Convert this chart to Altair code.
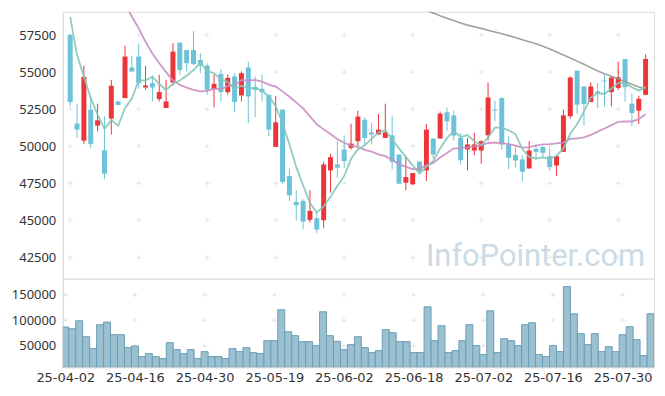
import altair as alt
import pandas as pd
import itertools

# ---- data ----
opens = [57500, 51530, 50380, 52470, 51390, 49730, 51860, 53020, 53250, 55310,
         56050, 53960, 54260, 53180, 52580, 54300, 56990, 56490, 56490, 55820,
         55440, 53850, 54880, 53650, 54700, 53430, 55310, 54010, 53870, 53470,
         49960, 52470, 47990, 46240, 46310, 45030, 45150, 45010, 48370, 48770,
         49780, 49890, 50340, 51790, 50940, 50790, 50560, 50740, 49440, 47540,
         47430, 48970, 48370, 50520, 50520, 52290, 52080, 50560, 49780, 49710,
         49710, 50740, 52470, 53250, 50120, 49400, 49110, 48500, 49820, 49960,
         49330, 48700, 49620, 52020, 55100, 54030, 52980, 53700, 54430, 53650,
         53940, 55890, 52870, 52400, 53470]
highs = [57550, 52870, 55440, 53400, 52870, 52020, 54480, 53070, 56780, 56110,
         56940, 55420, 54770, 54820, 54480, 56960, 56990, 56490, 57770, 56270,
         55600, 54820, 55200, 54840, 54930, 55040, 55710, 54700, 54820, 53470,
         53400, 52470, 48500, 47030, 46420, 47030, 45640, 48950, 49490, 50340,
         50740, 51520, 52400, 51950, 51570, 52170, 52870, 52020, 49440, 49380,
         48190, 48970, 51500, 50520, 52350, 52620, 52400, 50900, 50560, 50900,
         50380, 54300, 53070, 53290, 50670, 49940, 49400, 50340, 50120, 49960,
         49890, 49400, 52470, 54700, 55100, 54030, 54300, 54260, 54860, 54700,
         55710, 55890, 53580, 53400, 56200]
lows = [52690, 50560, 50160, 49890, 51010, 47770, 50790, 52780, 53250, 55040,
        53870, 53810, 53020, 53020, 52580, 54080, 54820, 55040, 55440, 54930,
        53470, 52620, 53020, 53470, 52290, 53020, 51570, 51970, 53020, 50670,
        49960, 47470, 46310, 44970, 44410, 44860, 44140, 44480, 46870, 47880,
        48550, 49780, 50000, 50070, 50120, 50790, 50560, 48440, 47470, 47030,
        47380, 48100, 47650, 49110, 50520, 51010, 50380, 48770, 48370, 49400,
        48820, 50380, 51680, 49780, 48440, 48550, 47650, 48500, 49110, 49220,
        48370, 47990, 49620, 51860, 52170, 51410, 52980, 52580, 52690, 52690,
        53790, 53020, 51350, 51500, 53430]
closes = [52980, 51120, 54680, 50160, 51750, 48150, 54080, 52780, 56050, 55040,
          54260, 54100, 53960, 53650, 53020, 56380, 55150, 55600, 55550, 55420,
          53810, 54210, 53650, 54610, 52980, 54930, 53360, 53790, 53650, 51120,
          51610, 47590, 46690, 46020, 44920, 45640, 44390, 48770, 49260, 48550,
          49000, 50180, 52000, 50560, 50790, 51120, 50940, 48950, 47470, 47920,
          48190, 48320, 51120, 49440, 52200, 51680, 50720, 49060, 50120, 50120,
          50340, 53290, 52400, 50120, 49220, 49040, 48280, 49710, 49620, 49560,
          48590, 49330, 52080, 54640, 52800, 52850, 54030, 53580, 54370, 54640,
          54660, 53990, 52240, 53200, 55890]
volumes = [86600, 83300, 99000, 67600, 44100, 91200, 96400, 71600, 71600, 46100,
           49300, 28400, 34300, 28400, 24500, 55900, 42200, 34300, 42200, 24500,
           38200, 28400, 28400, 24500, 44100, 38200, 46100, 36300, 34300, 59800,
           59800, 120600, 77500, 69600, 57800, 57800, 50000, 116700, 69600, 58500,
           42200, 52000, 67600, 46100, 36300, 40200, 81400, 75500, 57800, 57800,
           36300, 36300, 126500, 59800, 89200, 36300, 40200, 59800, 91200, 50000,
           32400, 118600, 36300, 63700, 59800, 50000, 91200, 95100, 32400, 28400,
           50000, 38200, 166300, 112700, 73500, 52000, 73500, 38200, 48000, 38200,
           71600, 87300, 61800, 30400, 112700]
ma5 = [58730, 56150, 54700, 53250, 52138, 51172, 51764, 51384, 52562, 53220,
       54442, 54446, 54682, 54202, 53798, 54222, 54432, 54760, 55140, 55620,
       55106, 54918, 54528, 54340, 53852, 54076, 53906, 53934, 53742, 53370,
       52706, 51552, 50132, 48606, 47366, 46172, 45532, 45948, 46596, 47322,
       47994, 49152, 49798, 50058, 50506, 50930, 51082, 50472, 49854, 49280,
       48694, 48170, 48604, 48998, 49854, 50552, 51032, 50620, 50756, 50340,
       50072, 50586, 51254, 51254, 51074, 50814, 49812, 49274, 49174, 49242,
       49152, 49362, 49836, 50840, 51488, 52340, 53280, 53580, 53526, 53894,
       54256, 54248, 53980, 53750, 54000]
ma20 = [None] * 8 + [
    59600, 58750, 57950, 57050, 56250, 55600, 55000, 54450, 54150, 53950,
    53800, 53694, 53736, 53890, 53839, 54061, 54123, 54462, 54426, 54476,
    54356, 54160, 54028, 53702, 53339, 52957, 52552, 52015, 51477, 51136,
    50821, 50478, 50237, 50036, 49953, 49751, 49641, 49451, 49330, 49088,
    48779, 48619, 48448, 48484, 48706, 48877, 49241, 49543, 49859, 49874,
    49917, 49995, 50062, 50218, 50238, 50216, 50137, 50033, 49900, 49938,
    50046, 50128, 50148, 50198, 50246, 50506, 50536, 50595, 50760, 50986,
    51199, 51425, 51641, 51676, 51668, 51822, 52155]
ma120 = [None] * 52 + [
    59150, 58980, 58800, 58640, 58480, 58320, 58170, 58060, 57950, 57830,
    57710, 57590, 57460, 57330, 57190, 57050, 56920, 56750, 56560, 56350,
    56150, 55950, 55740, 55530, 55300, 55080, 54890, 54720, 54560, 54350,
    54180, 54000, 53870]

tick_idx = [0, 10, 20, 30, 40, 50, 60, 70, 80]
tick_labels = ["25-04-02", "25-04-16", "25-04-30", "25-05-19", "25-06-02",
               "25-06-18", "25-07-02", "25-07-16", "25-07-30"]
price_ticks = [42500, 45000, 47500, 50000, 52500, 55000, 57500]
vol_ticks = [50000, 100000, 150000]
watermark = ["InfoPointer.com"]

# ---- styling ----
RED = "#ec3439"
BLUE = "#6cc2d8"
GRIDC = "#dedede"
CROSSC = "#e4e4e4"
LABELC = "#333333"
CROSS = "M-1,0H1M0,-1V1"
W = 594
XDOM = [-0.36, 84.5]
PDOM = [41070, 59064]
VDOM = [7500, 182000]

n = len(closes)
df = pd.DataFrame({
    "i": list(range(n)), "open": opens, "high": highs, "low": lows,
    "close": closes, "volume": volumes, "ma5": ma5, "ma20": ma20, "ma120": ma120,
})
df["dir"] = ["up" if c >= o else "down" for o, c in zip(opens, closes)]

xscale = alt.Scale(domain=XDOM, nice=False, zero=False)
pscale = alt.Scale(domain=PDOM, nice=False, zero=False)
vscale = alt.Scale(domain=VDOM, nice=False, zero=False)
color = alt.Color("dir:N", scale=alt.Scale(domain=["up", "down"], range=[RED, BLUE]), legend=None)

yaxis_common = dict(grid=False, ticks=False, domain=True, domainColor=GRIDC,
                    labelFont="Noto Sans", labelFontSize=13, labelColor=LABELC,
                    labelPadding=7, minExtent=54, maxExtent=54, title=None, format="d")

label_expr = ("[" + ",".join(f"'{t}'" for t in tick_labels) + "][indexof(["
              + ",".join(str(t) for t in tick_idx) + "], datum.value)]")
xaxis_vol = alt.Axis(
    values=tick_idx, labelExpr=label_expr, ticks=False, grid=False,
    domainColor=GRIDC, labelFont="DejaVu Sans", labelFontSize=13,
    labelColor=LABELC, labelPadding=4, title=None, labelFlush=False,
    labelOverlap=False)

base = alt.Chart(df)

pcross = pd.DataFrame(list(itertools.product(tick_idx, price_ticks)), columns=["xi", "yv"])
cross_p = alt.Chart(pcross).mark_point(shape=CROSS, size=25, filled=False, color=CROSSC,
                                       strokeWidth=1, opacity=1).encode(
    x=alt.X("xi:Q", scale=xscale, axis=None),
    y=alt.Y("yv:Q", scale=pscale, axis=alt.Axis(values=price_ticks, **yaxis_common)),
)

wm = alt.Chart(pd.DataFrame({"t": watermark})).mark_text(
    font="Roboto", fontSize=31, color="#cadbe6", align="right", baseline="alphabetic"
).encode(text="t:N", x=alt.value(585), y=alt.value(255))

wicks = base.mark_rule(strokeWidth=1).encode(
    x=alt.X("i:Q", scale=xscale, axis=None),
    y=alt.Y("low:Q", scale=pscale),
    y2="high:Q",
    color=color,
)
bodies = base.mark_bar(size=5).encode(
    x=alt.X("i:Q", scale=xscale, axis=None),
    y=alt.Y("open:Q", scale=pscale),
    y2="close:Q",
    color=color,
)

def ma_line(field, col, width):
    return base.mark_line(clip=True, color=col, strokeWidth=width, opacity=0.9).encode(
        x=alt.X("i:Q", scale=xscale, axis=None),
        y=alt.Y(f"{field}:Q", scale=pscale),
    )

price = alt.layer(
    cross_p, wm, wicks, bodies,
    ma_line("ma120", "#979797", 1.6),
    ma_line("ma20", "#c98dc3", 1.8),
    ma_line("ma5", "#84c6b9", 1.8),
).properties(width=W, height=268)

vcross = pd.DataFrame(list(itertools.product(tick_idx, vol_ticks)), columns=["xi", "yv"])
cross_v = alt.Chart(vcross).mark_point(shape=CROSS, size=25, filled=False, color=CROSSC,
                                       strokeWidth=1, opacity=1).encode(
    x=alt.X("xi:Q", scale=xscale, axis=xaxis_vol),
    y=alt.Y("yv:Q", scale=vscale, axis=alt.Axis(values=vol_ticks, **yaxis_common)),
)

vbars = base.transform_calculate(
    xa="datum.i - 0.5", xb="datum.i + 0.5"
).mark_bar(fill="#9bc1d1", stroke="#6c9db6", strokeWidth=1, clip=True).encode(
    x=alt.X("xa:Q", scale=xscale, axis=xaxis_vol),
    x2="xb:Q",
    y=alt.Y("volume:Q", scale=vscale),
    y2=alt.datum(VDOM[0]),
)

vol = alt.layer(cross_v, vbars).properties(width=W, height=89)

chart = alt.vconcat(price, vol, spacing=0, bounds="flush").properties(
    padding={"left": 0, "top": 2, "right": 2, "bottom": 0}
).configure_view(stroke="#e3e3e3").configure(background="white")

chart.save("out.html", embed_options={"renderer": "svg", "actions": False})
